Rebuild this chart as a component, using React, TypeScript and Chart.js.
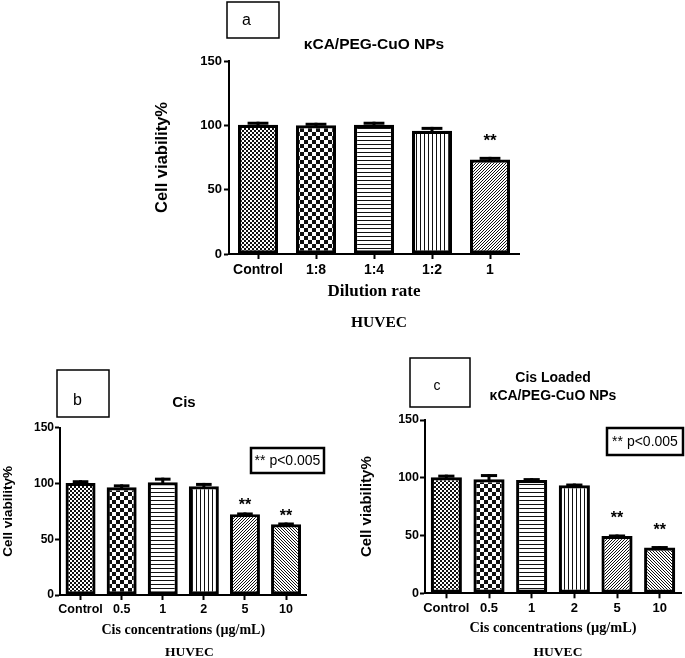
import React, { useEffect, useRef } from 'react';
import { Chart, registerables } from 'chart.js';

Chart.register(...registerables);

// ---------------- data ----------------
const dilutionLabels = ['Control', '1:8', '1:4', '1:2', '1'];
const viabilityA = [100.5, 100, 100.5, 95.8, 73.5];
const errorA = [2.3, 2, 2.3, 3, 2];
const starsA = [false, false, false, false, true];

const cisLabels = ['Control', '0.5', '1', '2', '5', '10'];
const viabilityB = [100.5, 96.5, 101, 97.5, 72.5, 63.5];
const errorB = [2.4, 2.7, 4.2, 3, 1.5, 1.5];
const starsB = [false, false, false, false, true, true];

const viabilityC = [100.4, 98.7, 98, 93.5, 49.5, 39.7];
const errorC = [2.3, 4.5, 1.7, 1.5, 1.4, 1.2];
const starsC = [false, false, false, false, true, true];

const yMin = 0;
const yMax = 150;
const yStep = 50;

const patternsA = ['fineChecker', 'checker', 'hLines', 'vLines', 'diagUp'];
const patternsBC = ['fineChecker', 'checker', 'hLines', 'vLines', 'diagUp', 'diagDown'];

// ---------------- styles ----------------
const SANS = '"Liberation Sans", Arial, Helvetica, sans-serif';
const SERIF = '"Liberation Serif", "Times New Roman", Times, serif';
const INK = '#111';

function makePattern(kind: string, ctx: CanvasRenderingContext2D): CanvasPattern | string {
  const sizes: Record<string, number> = { fineChecker: 4, checker: 8, hLines: 4, vLines: 4, diagUp: 3, diagDown: 3 };
  const size = sizes[kind] || 4;
  const c = document.createElement('canvas');
  c.width = size;
  c.height = size;
  const g = c.getContext('2d');
  if (!g) return '#888';
  g.fillStyle = '#fff';
  g.fillRect(0, 0, size, size);
  g.fillStyle = INK;
  for (let y = 0; y < size; y++) {
    for (let x = 0; x < size; x++) {
      let on = false;
      if (kind === 'fineChecker') on = ((x >> 1) + (y >> 1)) % 2 === 0;
      else if (kind === 'checker') on = ((x >> 2) + (y >> 2)) % 2 === 0;
      else if (kind === 'hLines') on = y % 4 === 0;
      else if (kind === 'vLines') on = x % 4 === 0;
      else if (kind === 'diagUp') on = (x + y) % 3 === 0;
      else if (kind === 'diagDown') on = (x - y + 6) % 3 === 0;
      if (on) g.fillRect(x, y, 1, 1);
    }
  }
  return ctx.createPattern(c, 'repeat') || '#888';
}

const annotatePlugin = {
  id: 'annotate',
  afterDatasetsDraw(chart: any, _args: any, o: any) {
    const ctx: CanvasRenderingContext2D = chart.ctx;
    const meta = chart.getDatasetMeta(0);
    const ys = chart.scales.y;
    const data = chart.data.datasets[0].data as number[];
    ctx.save();
    ctx.fillStyle = '#000';
    meta.data.forEach((bar: any, i: number) => {
      const p = bar.getProps(['x', 'y', 'width'], true);
      const v = data[i];
      const yErr = ys.getPixelForValue(v + o.errors[i]);
      ctx.fillRect(p.x - 1.5, yErr, 3, p.y - yErr + 2);
      const cw = p.width * o.capRatio;
      ctx.fillRect(p.x - cw / 2, yErr, cw, 3);
      if (o.stars[i]) {
        ctx.font = `bold ${o.starFont}px ${SANS}`;
        ctx.textAlign = 'center';
        ctx.textBaseline = 'alphabetic';
        ctx.fillText('**', p.x, yErr - o.starGap);
      }
    });
    ctx.restore();
  },
  afterDraw(chart: any, _args: any, o: any) {
    const ctx: CanvasRenderingContext2D = chart.ctx;
    const ca = chart.chartArea;
    const cx = (ca.left + ca.right) / 2;
    ctx.save();
    ctx.fillStyle = '#000';
    // title
    ctx.font = `bold ${o.titleFont}px ${SANS}`;
    ctx.textAlign = 'center';
    ctx.textBaseline = 'middle';
    o.titleLines.forEach((t: string, i: number) => {
      ctx.fillText(t, cx + o.titleDx, o.titleY[i]);
    });
    // letter box
    const lb = o.letterBox;
    ctx.strokeStyle = '#000';
    ctx.lineWidth = 1.5;
    ctx.strokeRect(lb[0], lb[1], lb[2], lb[3]);
    ctx.font = `${o.letterFont}px ${SANS}`;
    ctx.textBaseline = 'alphabetic';
    ctx.fillText(o.letter, o.letterX, o.letterY);
    // p-value box
    if (o.pBox) {
      const pb = o.pBox;
      ctx.lineWidth = 2.5;
      ctx.strokeRect(pb[0], pb[1], pb[2], pb[3]);
      ctx.font = `${o.pFont}px ${SANS}`;
      ctx.textBaseline = 'middle';
      ctx.fillText('** p<0.005', pb[0] + pb[2] / 2, pb[1] + pb[3] / 2 + 1);
    }
    // HUVEC caption
    ctx.font = `bold ${o.huvecFont}px ${SERIF}`;
    ctx.textBaseline = 'middle';
    ctx.fillText('HUVEC', cx + o.huvecDx, o.huvecY);
    ctx.restore();
  },
};

type Spec = {
  left: number; top: number; width: number; height: number;
  labels: string[]; values: number[]; errors: number[]; stars: boolean[]; patterns: string[];
  padTop: number; padRight: number; yWidth: number; xHeight: number; barPct: number;
  yTickFont: number; xTickFont: number; yTickPad: number; xTickPad: number;
  yTitleFont: number; yTitlePad: number;
  xTitle: string; xTitleFont: number; xTitlePad: number;
  huvecFont: number; huvecY: number; huvecDx: number;
  titleLines: string[]; titleFont: number; titleDx: number; titleY: number[];
  letter: string; letterBox: number[]; letterX: number; letterY: number; letterFont: number;
  pBox: number[] | null; pFont: number;
  starFont: number; starGap: number;
};

function Panel({ s }: { s: Spec }) {
  const ref = useRef<HTMLCanvasElement | null>(null);
  useEffect(() => {
    const canvas = ref.current;
    if (!canvas) return;
    const ctx = canvas.getContext('2d');
    if (!ctx) return;
    const fills = s.patterns.map((k) => makePattern(k, ctx));
    const chart = new Chart(ctx, {
      type: 'bar',
      data: {
        labels: s.labels,
        datasets: [
          {
            data: s.values,
            backgroundColor: fills as any,
            borderColor: '#000',
            borderWidth: 3.2,
            borderSkipped: false,
            categoryPercentage: 1,
            barPercentage: s.barPct,
          },
        ],
      },
      options: {
        animation: false,
        responsive: false,
        devicePixelRatio: 1,
        events: [],
        layout: { padding: { top: s.padTop, right: s.padRight, left: 0, bottom: 0 } },
        plugins: {
          legend: { display: false },
          tooltip: { enabled: false },
          title: { display: false },
          annotate: {
            errors: s.errors, stars: s.stars, starFont: s.starFont, starGap: s.starGap, capRatio: 0.52,
            titleLines: s.titleLines, titleFont: s.titleFont, titleDx: s.titleDx, titleY: s.titleY,
            letter: s.letter, letterBox: s.letterBox, letterX: s.letterX, letterY: s.letterY, letterFont: s.letterFont,
            pBox: s.pBox, pFont: s.pFont,
            huvecFont: s.huvecFont, huvecY: s.huvecY, huvecDx: s.huvecDx,
          },
        } as any,
        scales: {
          x: {
            type: 'category',
            offset: true,
            grid: { display: true, drawOnChartArea: false, offset: false, tickLength: 5, tickWidth: 2, color: '#000' },
            border: { display: true, width: 2, color: '#000' },
            ticks: { color: '#000', padding: s.xTickPad, font: { family: SANS, size: s.xTickFont, weight: 'bold' }, maxRotation: 0, autoSkip: false },
            title: {
              display: true, text: s.xTitle, color: '#000',
              font: { family: SERIF, size: s.xTitleFont, weight: 'bold' },
              padding: { top: 0, bottom: s.xTitlePad },
            },
            afterFit: (sc: any) => { sc.height = s.xHeight; },
          },
          y: {
            min: yMin,
            max: yMax,
            grid: { display: true, drawOnChartArea: false, tickLength: 5, tickWidth: 2, color: '#000' },
            border: { display: true, width: 2, color: '#000' },
            ticks: { stepSize: yStep, color: '#000', padding: s.yTickPad, font: { family: SANS, size: s.yTickFont, weight: 'bold' } },
            title: {
              display: true, text: 'Cell viability%', color: '#000',
              font: { family: SANS, size: s.yTitleFont, weight: 'bold' },
              padding: { top: s.yTitlePad, bottom: 0 },
            },
            afterFit: (sc: any) => { sc.width = s.yWidth; },
          },
        } as any,
      },
      plugins: [annotatePlugin as any],
    });
    return () => chart.destroy();
  }, [s]);
  return (
    <canvas
      ref={ref}
      width={s.width}
      height={s.height}
      style={{ position: 'absolute', left: s.left, top: s.top, width: s.width, height: s.height }}
    />
  );
}

const specA: Spec = {
  left: 140, top: 0, width: 400, height: 340,
  labels: dilutionLabels, values: viabilityA, errors: errorA, stars: starsA, patterns: patternsA,
  padTop: 61, padRight: 21, yWidth: 89, xHeight: 86, barPct: 0.69,
  yTickFont: 13, xTickFont: 14, yTickPad: 2, xTickPad: 3,
  yTitleFont: 16.5, yTitlePad: 13,
  xTitle: 'Dilution rate', xTitleFont: 17, xTitlePad: 38,
  huvecFont: 15.5, huvecY: 323, huvecDx: 5,
  titleLines: ['\u03baCA/PEG-CuO NPs'], titleFont: 15.5, titleDx: 0, titleY: [45],
  letter: 'a', letterBox: [87, 2, 52, 36], letterX: 106.5, letterY: 25, letterFont: 16,
  pBox: null, pFont: 14,
  starFont: 17, starGap: 11,
};

const specB: Spec = {
  left: 0, top: 340, width: 340, height: 318,
  labels: cisLabels, values: viabilityB, errors: errorB, stars: starsB, patterns: patternsBC,
  padTop: 87.7, padRight: 33.4, yWidth: 60, xHeight: 63, barPct: 0.73,
  yTickFont: 12, xTickFont: 12.5, yTickPad: 1, xTickPad: 2,
  yTitleFont: 13.5, yTitlePad: 0,
  xTitle: 'Cis concentrations (\u00b5g/mL)', xTitleFont: 14, xTitlePad: 19.6,
  huvecFont: 13.5, huvecY: 313, huvecDx: 6,
  titleLines: ['Cis'], titleFont: 15, titleDx: 0.7, titleY: [63],
  letter: 'b', letterBox: [57, 30, 52, 47], letterX: 77.5, letterY: 65, letterFont: 16,
  pBox: [251, 108, 73, 25], pFont: 14,
  starFont: 16, starGap: 2,
};

const specC: Spec = {
  left: 340, top: 340, width: 345, height: 318,
  labels: cisLabels, values: viabilityC, errors: errorC, stars: starsC, patterns: patternsBC,
  padTop: 80, padRight: 4, yWidth: 85, xHeight: 64.7, barPct: 0.73,
  yTickFont: 12.5, xTickFont: 13, yTickPad: 1, xTickPad: 2,
  yTitleFont: 15, yTitlePad: 18,
  xTitle: 'Cis concentrations (\u00b5g/mL)', xTitleFont: 14.3, xTitlePad: 21.6,
  huvecFont: 13.5, huvecY: 313, huvecDx: 5,
  titleLines: ['Cis Loaded', '\u03baCA/PEG-CuO NPs'], titleFont: 14, titleDx: 0, titleY: [38, 56],
  letter: 'c', letterBox: [70, 18, 60, 49], letterX: 97, letterY: 50, letterFont: 14,
  pBox: [267, 88, 76, 27], pFont: 14,
  starFont: 16, starGap: 11,
};

export default function App() {
  return (
    <div style={{ position: 'absolute', left: 0, top: 0, width: 685, height: 658, background: '#fff', overflow: 'hidden' }}>
      <Panel s={specA} />
      <Panel s={specB} />
      <Panel s={specC} />
    </div>
  );
}
